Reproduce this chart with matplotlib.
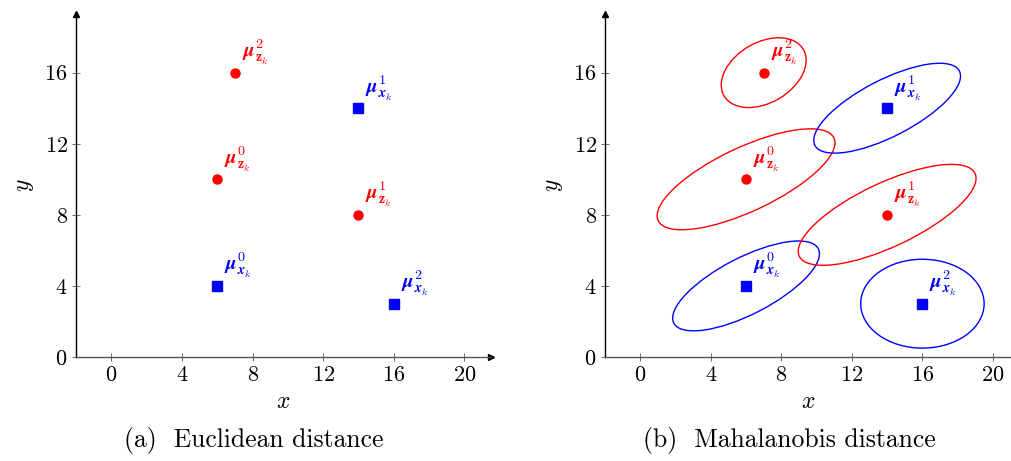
import matplotlib
matplotlib.use('Agg')
from matplotlib import pyplot as plt
from matplotlib.patches import Ellipse

plt.rcParams['font.family'] = 'serif'
plt.rcParams['font.serif'] = ['cmr10', 'DejaVu Serif']
plt.rcParams['mathtext.fontset'] = 'cm'
plt.rcParams['axes.formatter.use_mathtext'] = True

# measurement means (red) and state means (blue)
z_x = [6, 14, 7]
z_y = [10, 8, 16]
x_x = [6, 14, 16]
x_y = [4, 14, 3]

# covariance ellipses: width, height, angle (deg)
z_w = [11.0, 11.0, 5.2]
z_h = [3.6, 3.6, 3.4]
z_ang = [25, 25, 30]
x_w = [9.2, 9.2, 7.0]
x_h = [3.2, 3.2, 5.0]
x_ang = [27, 27, 0]

xticks = [0, 4, 8, 12, 16, 20]
yticks = [0, 4, 8, 12, 16]

RED = '#ff0000'
BLUE = '#0000ff'
AXC = '#555555'


def setup_axes(ax, xmax, arrow_x=True):
    ax.set_xlim(-2, xmax)
    ax.set_ylim(0, 19.3)
    for s in ['top', 'right']:
        ax.spines[s].set_visible(False)
    for s in ['left', 'bottom']:
        ax.spines[s].set_color(AXC)
        ax.spines[s].set_linewidth(1.0)
    ax.spines['left'].set_color('black')
    ax.set_xticks(xticks)
    ax.set_yticks(yticks)
    ax.tick_params(direction='inout', length=6, width=0.6, color=AXC,
                   labelsize=16, pad=3)
    ax.plot(0, 1, '^', color='black', ms=4, transform=ax.transAxes, clip_on=False)
    if arrow_x:
        ax.plot(1, 0, '>', color='black', ms=4, transform=ax.transAxes, clip_on=False)
    ax.set_xlabel('$x$', fontsize=17, labelpad=4)
    ax.set_ylabel('$y$', fontsize=17, labelpad=6)


def draw_points(ax):
    ax.plot(z_x, z_y, 'o', color=RED, ms=6.5, clip_on=False)
    ax.plot(x_x, x_y, 's', color=BLUE, ms=6.5, clip_on=False)
    for i in range(3):
        ax.annotate(r'$\boldsymbol{\mu}_{\mathbf{z}_k}^{%d}$' % i, (z_x[i], z_y[i]),
                    xytext=(5, 4), textcoords='offset points', color=RED,
                    fontsize=14.5, ha='left', va='bottom')
        ax.annotate(r'$\boldsymbol{\mu}_{\boldsymbol{x}_k}^{%d}$' % i, (x_x[i], x_y[i]),
                    xytext=(5, 4), textcoords='offset points', color=BLUE,
                    fontsize=14.5, ha='left', va='bottom')


fig = plt.figure(figsize=(10.12, 4.61), dpi=100)
ax1 = fig.add_axes([0.0751, 0.2256, 0.410, 0.744])
ax2 = fig.add_axes([0.5978, 0.2256, 0.4022, 0.744])

setup_axes(ax1, 21.5)
draw_points(ax1)

setup_axes(ax2, 21.08, arrow_x=False)
for i in range(3):
    ax2.add_patch(Ellipse((z_x[i], z_y[i]), z_w[i], z_h[i], angle=z_ang[i],
                          fill=False, ec=RED, lw=1.0))
    ax2.add_patch(Ellipse((x_x[i], x_y[i]), x_w[i], x_h[i], angle=x_ang[i],
                          fill=False, ec=BLUE, lw=1.0))
draw_points(ax2)

fig.text(0.2505, 0.03, '(a)  Euclidean distance', ha='center', fontsize=18.5)
fig.text(0.7805, 0.03, '(b)  Mahalanobis distance', ha='center', fontsize=18.5)

fig.savefig('out.png', dpi=100)
